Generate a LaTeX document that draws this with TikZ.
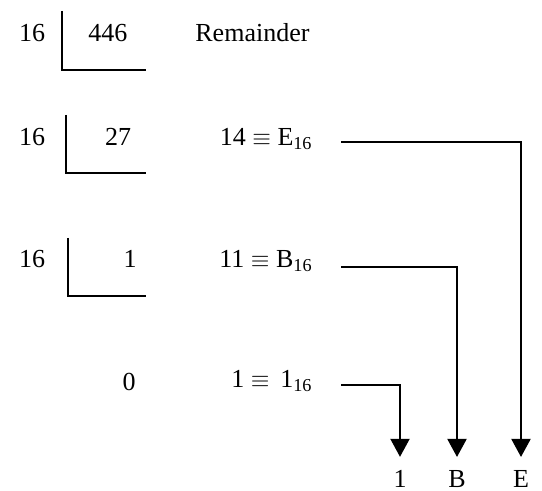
\documentclass[tikz,border=0pt]{standalone}
\usepackage{fontspec}
\setmainfont{Liberation Serif}
\usetikzlibrary{arrows.meta}

\begin{document}
\begin{tikzpicture}[
  x=0.5pt, y=-0.5pt,
  num/.style={inner sep=0pt, anchor=base, font=\fontsize{13}{15}\selectfont},
  rem/.style={num, anchor=base east},
  digit/.style={num, outer sep=7pt},
  bar/.style={line width=1pt},
  arr/.style={line width=1pt, -{Triangle[width=9.5pt, length=9pt]}}
]
\useasboundingbox (0,0) rectangle (542,491);

% divisors and quotients
\node[num] (dv1) at (32,42)  {16};
\node[num] (q1)  at (108,42) {446};
\node[num, anchor=base west] (head) at (195,42) {Remainder};
\node[num] (dv2) at (32,146) {16};
\node[num] (q2)  at (118,146) {27};
\node[num] (dv3) at (32,268) {16};
\node[num] (q3)  at (130,268) {1};
\node[num] (q4)  at (129,391) {0};

% division brackets
\draw[bar] (62,11)  -- (62,70)  -- (146,70);
\draw[bar] (66,115) -- (66,173) -- (146,173);
\draw[bar] (68,238) -- (68,296) -- (146,296);

% remainders
\node[rem] (r2) at (313,146) {14 $\equiv$ E\textsubscript{16}};
\node[rem] (r3) at (313,268) {11 $\equiv$ B\textsubscript{16}};
\node[rem] (r4) at (313,388) {1 $\equiv$ \,1\textsubscript{16}};
\coordinate (s2) at (341,142);
\coordinate (s3) at (341,267);
\coordinate (s4) at (341,385);

% hex digits
\node[digit] (hx1) at (400,488) {1};
\node[digit] (hxB) at (457,488) {B};
\node[digit] (hxE) at (521,488) {E};

\draw[arr] (s2) -| (hxE.north);
\draw[arr] (s3) -| (hxB.north);
\draw[arr] (s4) -| (hx1.north);
\end{tikzpicture}
\end{document}
